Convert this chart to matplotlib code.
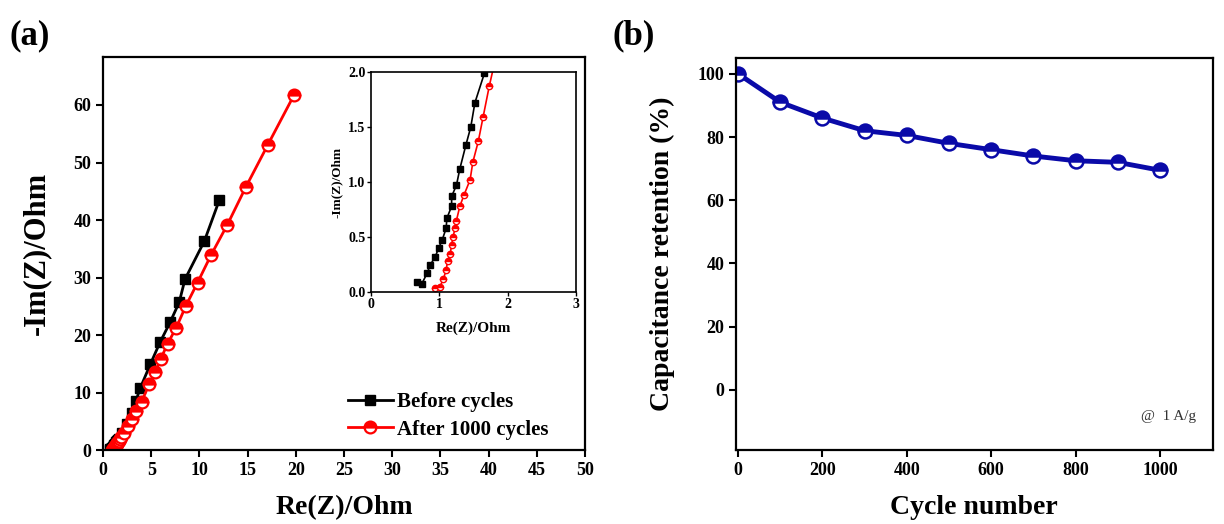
import matplotlib
matplotlib.use("Agg")
import matplotlib.pyplot as plt

plt.rcParams['font.family'] = 'Liberation Serif'
plt.rcParams['font.weight'] = 'bold'
plt.rcParams['axes.labelweight'] = 'bold'
plt.rcParams['axes.linewidth'] = 1.6

# Nyquist data (Re(Z), -Im(Z))
before_re = [0.68, 0.74, 0.82, 0.87, 0.94, 0.99, 1.04, 1.10, 1.11, 1.18, 1.18, 1.25, 1.30,
             1.39, 1.46, 1.52, 1.66, 2.0, 2.5, 3.0, 3.4, 3.84, 4.9, 5.9, 6.95, 7.9, 8.5,
             10.5, 12.07]
before_im = [0.09, 0.07, 0.17, 0.25, 0.32, 0.40, 0.47, 0.58, 0.67, 0.78, 0.87, 0.97, 1.12,
             1.34, 1.50, 1.72, 1.99, 3.0, 4.5, 6.4, 8.5, 10.7, 14.9, 18.7, 22.2, 25.7, 29.7,
             36.3, 43.5]
after_re = [0.94, 1.01, 1.06, 1.10, 1.12, 1.16, 1.18, 1.20, 1.23, 1.25, 1.30, 1.36, 1.45,
            1.49, 1.57, 1.64, 1.73, 1.85, 2.2, 2.6, 3.0, 3.4, 4.0, 4.8, 5.4, 6.0, 6.7, 7.6,
            8.6, 9.8, 11.2, 12.9, 14.8, 17.1, 19.8]
after_im = [0.04, 0.05, 0.12, 0.20, 0.28, 0.35, 0.43, 0.50, 0.58, 0.65, 0.78, 0.88, 1.02,
            1.18, 1.37, 1.59, 1.87, 2.2, 3.0, 4.2, 5.4, 6.8, 8.4, 11.5, 13.5, 15.9, 18.5, 21.3,
            25.1, 29.1, 33.9, 39.2, 45.7, 53.1, 61.7]

# cycling data
cycles = [0, 100, 200, 300, 400, 500, 600, 700, 800, 900, 1000]
retention = [100, 91, 86, 82, 80.5, 78, 76, 74, 72.5, 72, 69.5]

fig = plt.figure(figsize=(12.24, 5.24), dpi=100)

# (a) Nyquist plot
ax1 = fig.add_axes([0.0842, 0.1412, 0.3938, 0.7506])
ax1.plot(before_re, before_im, color='black', lw=2, marker='s', ms=7,
         mfc='black', mec='black', label='Before cycles')
ax1.plot(after_re, after_im, color='red', lw=2, marker='o', ms=8.5,
         fillstyle='top', mfc='red', mfcalt='white', mec='red', mew=1.6,
         label='After 1000 cycles')
ax1.set_xlim(0, 50)
ax1.set_ylim(0, 68.4)
ax1.set_xticks(range(0, 51, 5))
ax1.set_yticks(range(0, 61, 10))
ax1.tick_params(direction='out', length=5, width=1.5, labelsize=13)
ax1.set_xlabel('Re(Z)/Ohm', fontsize=20, labelpad=12)
ax1.set_ylabel('-Im(Z)/Ohm', fontsize=22, labelpad=16)
ax1.legend(loc='lower left', bbox_to_anchor=(0.49, 0.005), frameon=False,
           fontsize=15, handlelength=2.2, handletextpad=0.15, labelspacing=0.35,
           borderaxespad=0)

# inset
axin = fig.add_axes([0.3031, 0.4427, 0.1675, 0.4198])
axin.plot(before_re, before_im, color='black', lw=1.2, marker='s', ms=4,
          mfc='black', mec='black')
axin.plot(after_re, after_im, color='red', lw=1.2, marker='o', ms=4.5,
          fillstyle='top', mfc='red', mfcalt='white', mec='red', mew=1)
axin.set_xlim(0, 3)
axin.set_ylim(0, 2)
axin.set_xticks([0, 1, 2, 3])
axin.set_yticks([0.0, 0.5, 1.0, 1.5, 2.0])
axin.set_yticklabels(['0.0', '0.5', '1.0', '1.5', '2.0'])
axin.tick_params(direction='out', length=3, width=1, labelsize=10, pad=1)
for sp in axin.spines.values():
    sp.set_linewidth(1.2)
axin.set_xlabel('Re(Z)/Ohm', fontsize=11, labelpad=8)
axin.set_ylabel('-Im(Z)/Ohm', fontsize=9.5, labelpad=4)

# (b) cycling stability
ax2 = fig.add_axes([0.6013, 0.1412, 0.3895, 0.7481])
ax2.plot(cycles, retention, color='#0a0aa8', lw=3.5, marker='o', ms=10,
         fillstyle='top', mfc='#0a0aa8', mfcalt='white', mec='#0a0aa8', mew=1.8)
ax2.set_xlim(-5, 1125)
ax2.set_ylim(-19, 105)
ax2.set_xticks(range(0, 1001, 200))
ax2.set_yticks(range(0, 101, 20))
ax2.tick_params(direction='out', length=5, width=1.5, labelsize=13)
ax2.set_xlabel('Cycle number', fontsize=20, labelpad=12)
ax2.set_ylabel('Capacitance retention (%)', fontsize=20, labelpad=16)
ax2.text(0.965, 0.085, '@  1 A/g', transform=ax2.transAxes, ha='right',
         va='center', fontsize=11, fontweight='normal', color='#333333')

fig.text(0.008, 0.915, '(a)', fontsize=25, fontweight='bold')
fig.text(0.5, 0.915, '(b)', fontsize=25, fontweight='bold')

fig.savefig('out.png', dpi=100)
